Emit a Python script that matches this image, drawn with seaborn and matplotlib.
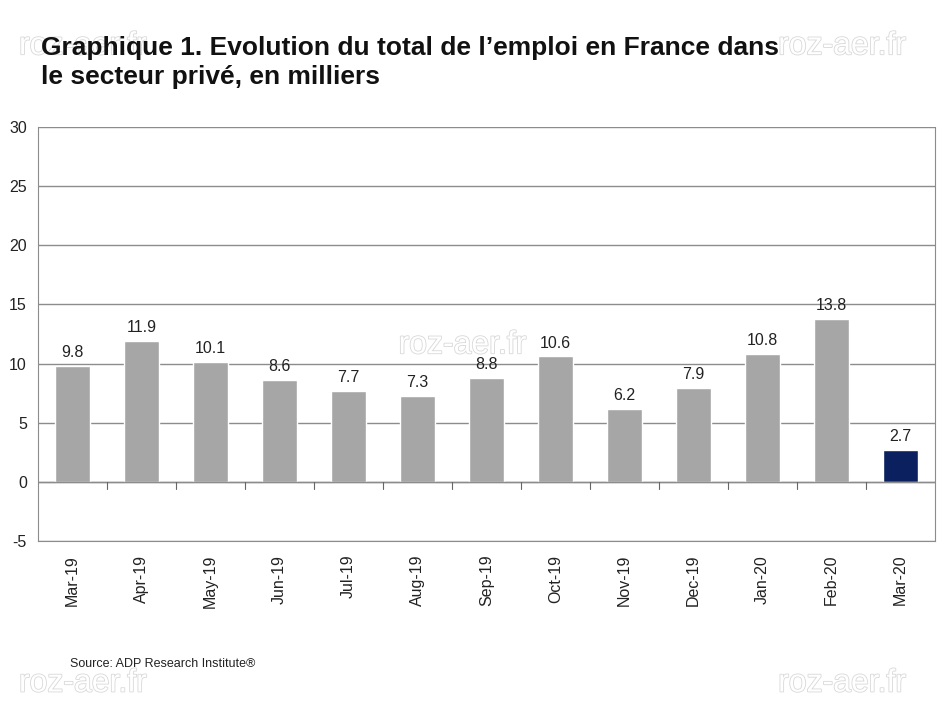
import matplotlib
matplotlib.use('Agg')
import matplotlib.pyplot as plt
import matplotlib.patheffects as pe
import seaborn as sns
import pandas as pd

# Donnees
mois = ['Mar-19', 'Apr-19', 'May-19', 'Jun-19', 'Jul-19', 'Aug-19', 'Sep-19',
        'Oct-19', 'Nov-19', 'Dec-19', 'Jan-20', 'Feb-20', 'Mar-20']
emploi = [9.8, 11.9, 10.1, 8.6, 7.7, 7.3, 8.8, 10.6, 6.2, 7.9, 10.8, 13.8, 2.7]
groupe = ['passe'] * 12 + ['dernier']
yticks = [-5, 0, 5, 10, 15, 20, 25, 30]

df = pd.DataFrame({'mois': mois, 'emploi': emploi, 'groupe': groupe})

sns.set_style('white')
plt.rcParams['font.family'] = ['Liberation Sans', 'DejaVu Sans']

fig = plt.figure(figsize=(9.49, 7.12), dpi=100)
ax = fig.add_axes([0.040, 0.2402, 0.945, 0.5814])

sns.barplot(data=df, x='mois', y='emploi', hue='groupe',
            palette={'passe': '#a6a6a6', 'dernier': '#0b215f'},
            width=0.5, dodge=False, legend=False, saturation=1, ax=ax)

ax.set_ylim(-5, 30)
ax.set_xlim(-0.5, len(mois) - 0.5)
ax.set_yticks(yticks)
ax.set_yticklabels([str(v) for v in yticks], fontsize=11.5, color='#222222')
ax.grid(axis='y', color='#8c8c8c', linewidth=1)
ax.set_axisbelow(True)
ax.axhline(0, color='#8c8c8c', linewidth=1, zorder=1)

# petites graduations sur la ligne zero
for i in range(len(mois) - 1):
    ax.plot([i + 0.5, i + 0.5], [0, -0.6], color='#666666', linewidth=0.8,
            clip_on=False)

for s in ['left', 'right', 'bottom', 'top']:
    ax.spines[s].set_color('#8c8c8c')
ax.spines['top'].set_visible(False)

ax.tick_params(axis='y', length=4, color='#8c8c8c', pad=4)
ax.tick_params(axis='x', length=0, pad=10)
ax.set_xticks(range(len(mois)))
ax.set_xticklabels(mois, rotation=90, fontsize=11.5, color='#222222')
ax.set_xlabel('')
ax.set_ylabel('')

# etiquettes des valeurs
for i, v in enumerate(emploi):
    ax.text(i, v + 0.5, f'{v:.1f}', ha='center', va='bottom', fontsize=11.5,
            color='#222222')

# titre
fig.text(0.043, 0.950, "Graphique 1. Evolution du total de l\u2019emploi en France dans\nle secteur priv\u00e9, en milliers",
         ha='left', va='top', fontsize=19, fontweight='bold', color='#111111',
         linespacing=1.3)

fig.text(0.074, 0.068, 'Source: ADP Research Institute\u00ae', fontsize=9,
         color='#222222', ha='left', va='center')

# filigranes
wm = dict(fontsize=23, color='white', alpha=1,
          path_effects=[pe.withStroke(linewidth=1.2, foreground='#d8d8d8')])
for (x, y) in [(0.02, 0.935), (0.82, 0.935), (0.02, 0.04), (0.82, 0.04),
               (0.42, 0.515)]:
    fig.text(x, y, 'roz-aer.fr', ha='left', va='center', zorder=0, **wm)

fig.savefig('out.png', dpi=100)
